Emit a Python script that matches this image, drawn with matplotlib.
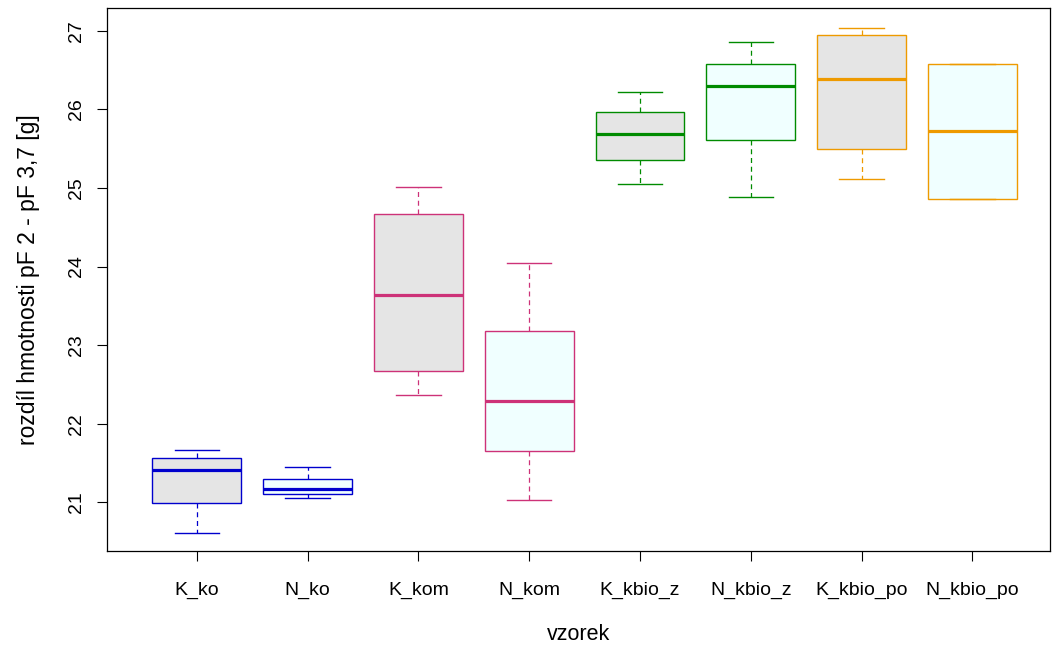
import matplotlib
matplotlib.use("Agg")
import matplotlib.pyplot as plt

plt.rcParams['font.family'] = ['Liberation Sans', 'DejaVu Sans']

# data
labels = ["K_ko", "N_ko", "K_kom", "N_kom", "K_kbio_z", "N_kbio_z", "K_kbio_po", "N_kbio_po"]
whislo = [20.61, 21.06, 22.36, 21.03, 25.05, 24.89, 25.11, 24.86]
q1 = [20.99, 21.11, 22.67, 21.65, 25.36, 25.61, 25.50, 24.86]
med = [21.41, 21.17, 23.64, 22.29, 25.69, 26.30, 26.39, 25.73]
q3 = [21.56, 21.29, 24.67, 23.18, 25.97, 26.58, 26.95, 26.58]
whishi = [21.66, 21.45, 25.01, 24.04, 26.22, 26.86, 27.03, 26.58]

line_colors = ["#0000CD", "#0000CD", "#CD3278", "#CD3278",
               "#008B00", "#008B00", "#EE9A00", "#EE9A00"]
fill_colors = ["#E5E5E5", "#F0FFFF"] * 4

stats = []
for i in range(len(labels)):
    stats.append(dict(label=labels[i], whislo=whislo[i], q1=q1[i], med=med[i],
                      q3=q3[i], whishi=whishi[i], fliers=[]))

fig = plt.figure(figsize=(10.57, 6.48), dpi=100)
ax = fig.add_axes([107 / 1057, 1 - 551 / 648, (1050 - 107) / 1057, (551 - 8) / 648])

positions = list(range(1, len(labels) + 1))
bp = ax.bxp(stats, positions=positions, widths=0.8, patch_artist=True,
            showfliers=False, manage_ticks=False)

for i in range(len(labels)):
    c = line_colors[i]
    bp['boxes'][i].set_facecolor(fill_colors[i])
    bp['boxes'][i].set_edgecolor(c)
    bp['boxes'][i].set_linewidth(1.0)
    bp['medians'][i].set_color(c)
    bp['medians'][i].set_linewidth(2.3)
    for w in bp['whiskers'][2 * i:2 * i + 2]:
        w.set_color(c)
        w.set_linestyle((0, (4, 3)))
        w.set_linewidth(0.9)
    for cap in bp['caps'][2 * i:2 * i + 2]:
        cap.set_color(c)
        cap.set_linewidth(1.0)
        xd = cap.get_xdata()
        cx = (xd[0] + xd[1]) / 2
        cap.set_xdata([cx - 0.2, cx + 0.2])

ax.set_xlim(0.19, 8.70)
ax.set_ylim(20.38, 27.29)
ax.set_xticks(positions)
ax.set_xticklabels(labels, fontsize=14)
ax.set_yticks([21, 22, 23, 24, 25, 26, 27])
ax.set_yticklabels(["21", "22", "23", "24", "25", "26", "27"], fontsize=14,
                   rotation=90, va="center")
ax.tick_params(direction="out", length=7, width=0.8)
ax.tick_params(axis="x", pad=15)
ax.tick_params(axis="y", pad=9)
for s in ax.spines.values():
    s.set_linewidth(0.9)

ax.set_xlabel("vzorek", fontsize=15.5, labelpad=18)
ax.set_ylabel("rozdíl hmotnosti pF 2 - pF 3,7 [g]", fontsize=16.5, labelpad=20)

fig.savefig("out.png", dpi=100)
